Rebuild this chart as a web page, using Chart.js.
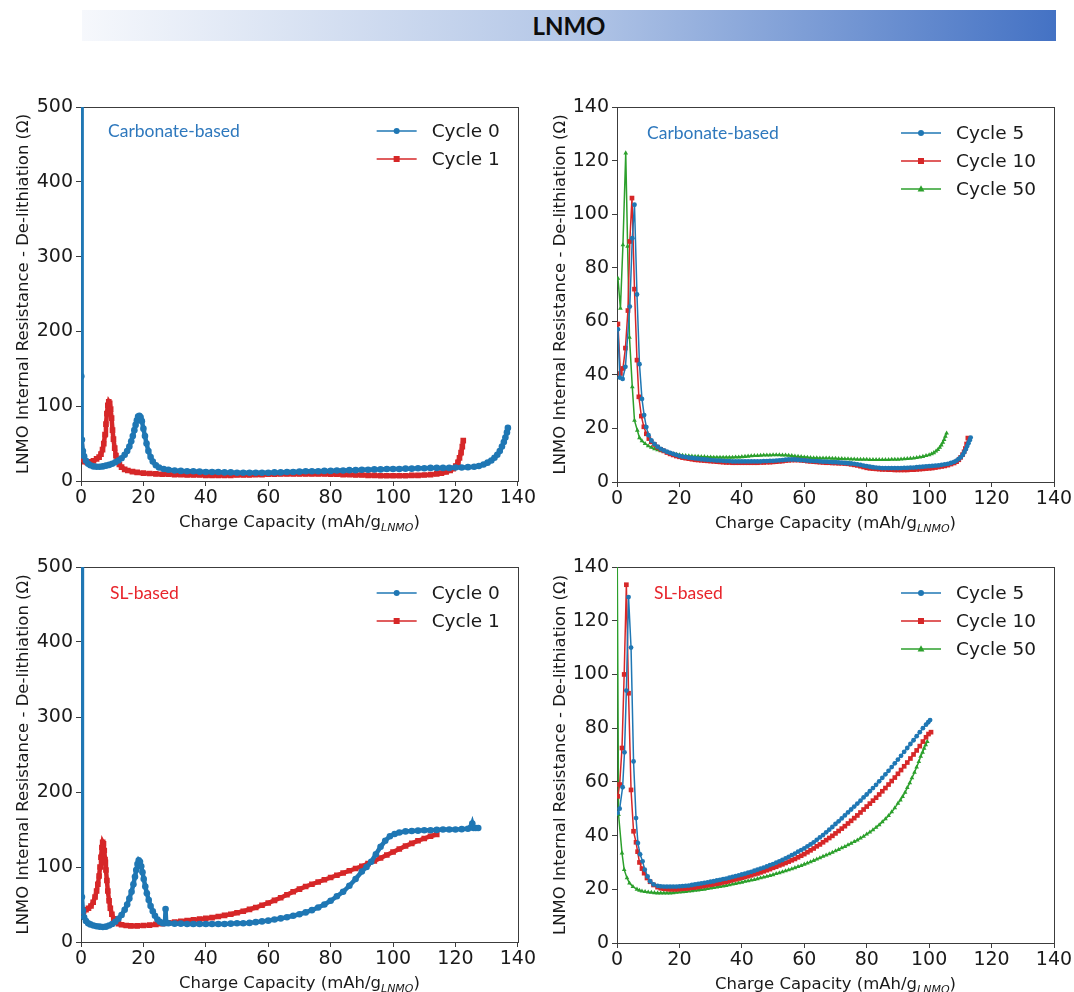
<!DOCTYPE html>
<html><head><meta charset="utf-8">
<script src="https://cdn.jsdelivr.net/npm/chart.js@4.4.1/dist/chart.umd.min.js"></script>
<style>
html,body{margin:0;padding:0;background:#fff;width:1074px;height:992px;overflow:hidden;}
#banner{position:absolute;left:82px;top:10px;width:974px;height:31px;background:linear-gradient(to right,#f6f8fc 0%,#b4c7e7 50%,#4472c4 100%);text-align:center;font-family:Lato,'Open Sans',sans-serif;font-weight:700;font-size:24px;line-height:31px;color:#0d0d0d;}
canvas{position:absolute;}
</style></head><body>
<div id="banner">LNMO</div>
<canvas id="c0" width="537" height="480" style="left:0px;top:60px"></canvas>
<canvas id="c1" width="537" height="480" style="left:537px;top:60px"></canvas>
<canvas id="c2" width="537" height="480" style="left:0px;top:520px"></canvas>
<canvas id="c3" width="537" height="480" style="left:537px;top:520px"></canvas>
<script>
// ---------- DATA (x = charge capacity mAh/g, y = resistance Ohm) ----------
const xTicks = [0, 20, 40, 60, 80, 100, 120, 140];
const yTicksLeft = [0, 100, 200, 300, 400, 500];
const yTicksRight = [0, 20, 40, 60, 80, 100, 120, 140];
const labelsLeft = ['Cycle 0', 'Cycle 1'];
const labelsRight = ['Cycle 5', 'Cycle 10', 'Cycle 50'];

// Carbonate-based, cycle 0
const carbCycle0 = [[0,900],[0.1,140],[0.3,55],[0.6,40],[1,33],[1.6,27],[2.3,23],[3,21],[4,19.5],[5,19],[6,19],[7,19.5],[8,20.5],[9,21.5],[10,23],[11,25],[12,27.5],[13,30.5],[14,35],[14.8,40],[15.5,46],[16.1,53],[16.6,60],[17.1,68],[17.5,75],[17.9,81],[18.3,86],[18.7,87],[19.1,85],[19.5,80],[20,70],[20.5,60],[21,50],[21.6,40],[22.3,32],[23,26],[24,21],[25,18],[26.5,16],[28,15],[30,14],[32,13.5],[34,13],[36,13],[38,12.5],[40,12],[42,12],[44,12],[46,11.5],[48,11.5],[50,11],[52,11],[54,11],[56,11],[58,11],[60,11],[62,11.5],[64,11.5],[66,12],[68,12],[70,12.5],[72,13],[74,13],[76,13],[78,13.5],[80,13.5],[82,14],[84,14],[86,14.5],[88,14.5],[90,15],[92,15],[94,15.5],[96,15.5],[98,16],[100,16],[102,16],[104,16.5],[106,16.5],[108,17],[110,17],[112,17.5],[114,17.5],[116,17.5],[118,17.5],[120,18],[122,18],[124,18.5],[126,19],[127.5,20],[129,22],[130.3,24.5],[131.5,27.5],[132.5,31],[133.4,35],[134.2,40],[134.9,46],[135.5,52],[136,58],[136.5,65],[136.8,71]];
// Carbonate-based, cycle 1
const carbCycle1 = [[0,50],[0.3,36],[0.7,29],[1.2,26],[2,25],[3,25.5],[4,27],[5,29.5],[5.8,32],[6.4,36],[6.9,42],[7.3,50],[7.7,62],[8,76],[8.3,90],[8.6,101],[8.9,106],[9.2,104],[9.5,96],[9.8,84],[10.1,68],[10.4,56],[10.8,44],[11.2,34],[11.7,27],[12.3,22],[13,18.5],[14,15.5],[15,14],[16.5,12.5],[18,11.5],[20,10.5],[22,10],[24,9.5],[26,9],[28,9],[30,8.5],[32,8.5],[34,8],[36,8],[38,8],[40,7.5],[42,7.5],[44,7.5],[46,7.5],[48,7.5],[50,8],[52,8],[54,8],[56,8.5],[58,8.5],[60,9],[62,9],[64,9.5],[66,9.5],[68,9.5],[70,9.5],[72,9.5],[74,9.5],[76,9.5],[78,9.5],[80,9],[82,9],[84,8.5],[86,8.5],[88,8],[90,8],[92,7.5],[94,7.5],[96,7],[98,7],[100,7],[102,7],[104,7],[106,7.5],[108,7.5],[110,8],[112,8.5],[114,9.5],[115.5,10.5],[117,12],[118.3,14],[119.3,16.5],[120.1,20],[120.8,25],[121.3,31],[121.8,38],[122.2,46],[122.5,54]];
// Carbonate-based, cycles 5 / 10 / 50
const carbCycle5 = [[0.3,57],[0.9,39],[1.8,38.5],[2.7,43],[4.1,65.5],[4.9,91],[5.6,103.5],[6.4,70],[7.2,44],[8,31],[8.7,25],[9.4,20.5],[10.1,17.5],[11,15.5],[12,14.2],[13,13.2],[14,12.4],[15,11.8],[16,11.3],[17,10.9],[18,10.5],[19,10.1],[20,9.7],[21,9.5],[22,9.3],[23,9.1],[24,9],[25,8.8],[26,8.7],[27,8.5],[28,8.4],[29,8.3],[30,8.2],[31,8.1],[32,8],[33,8],[34,7.9],[35,7.8],[36,7.8],[37,7.7],[38,7.7],[39,7.7],[40,7.7],[41,7.7],[42,7.7],[43,7.7],[44,7.7],[45,7.7],[46,7.7],[47,7.8],[48,7.8],[49,7.9],[50,7.9],[51,8],[52,8.1],[53,8.2],[54,8.3],[55,8.4],[56,8.4],[57,8.4],[58,8.3],[59,8.2],[60,8.1],[61,8],[62,7.9],[63,7.8],[64,7.8],[65,7.7],[66,7.6],[67,7.6],[68,7.5],[69,7.4],[70,7.4],[71,7.3],[72,7.2],[73,7.1],[74,7],[75,6.9],[76,6.8],[77,6.6],[78,6.4],[79,6.1],[80,5.9],[81,5.7],[82,5.5],[83,5.4],[84,5.3],[85,5.2],[86,5.2],[87,5.2],[88,5.2],[89,5.2],[90,5.2],[91,5.2],[92,5.3],[93,5.3],[94,5.4],[95,5.4],[96,5.5],[97,5.6],[98,5.7],[99,5.8],[100,5.9],[101,6],[102,6.1],[103,6.2],[104,6.4],[105,6.6],[106,6.8],[107,7.1],[108,7.5],[108.8,8],[109.5,8.6],[110.2,9.3],[110.8,10.2],[111.3,11.2],[111.8,12.3],[112.2,13.4],[112.6,14.5],[113,15.6],[113.3,16.6]];
const carbCycle10 = [[0.3,59],[1.1,40.5],[1.9,42.4],[2.7,50],[3.5,64],[4.1,89.8],[4.8,106],[5.6,72],[6.4,45.5],[7,31.8],[7.8,24.6],[8.6,20.6],[9.4,18],[10.2,16.2],[11,15],[12,14],[13,13],[14,12.2],[15,11.6],[16,11],[17,10.5],[18,10.1],[19,9.7],[20,9.4],[21,9.1],[22,8.9],[23,8.7],[24,8.5],[25,8.3],[26,8.2],[27,8.1],[28,8],[29,7.9],[30,7.8],[31,7.7],[32,7.6],[33,7.5],[34,7.4],[35,7.3],[36,7.3],[37,7.2],[38,7.2],[39,7.2],[40,7.2],[41,7.2],[42,7.2],[43,7.2],[44,7.2],[45,7.2],[46,7.3],[47,7.3],[48,7.4],[49,7.4],[50,7.5],[51,7.6],[52,7.7],[53,7.8],[54,8],[55,8.1],[56,8.2],[57,8.2],[58,8.2],[59,8.1],[60,8],[61,7.8],[62,7.7],[63,7.6],[64,7.5],[65,7.4],[66,7.3],[67,7.2],[68,7.2],[69,7.1],[70,7.1],[71,7],[72,7],[73,6.9],[74,6.8],[75,6.6],[76,6.4],[77,6.2],[78,5.9],[79,5.6],[80,5.3],[81,5.1],[82,5],[83,4.9],[84,4.8],[85,4.7],[86,4.7],[87,4.6],[88,4.6],[89,4.5],[90,4.5],[91,4.5],[92,4.5],[93,4.5],[94,4.6],[95,4.6],[96,4.7],[97,4.8],[98,4.9],[99,5],[100,5.1],[101,5.2],[102,5.4],[103,5.6],[104,5.8],[105,6],[106,6.3],[107,6.7],[108,7.1],[108.8,7.6],[109.5,8.3],[110.1,9.2],[110.7,10.2],[111.2,11.3],[111.6,12.5],[112,14.2],[112.4,16.4]];
const carbCycle50 = [[0.3,76],[1.1,64.8],[1.9,88.5],[2.8,122.8],[3.4,88],[4,54],[4.9,35.5],[5.6,23],[6.5,19.3],[7.2,16.5],[8,15.3],[9,14.3],[10,13.5],[11,12.9],[12,12.4],[13,12],[14,11.6],[15,11.3],[16,11],[17,10.7],[18,10.5],[19,10.3],[20,10.1],[21,9.9],[22,9.8],[23,9.7],[24,9.6],[25,9.5],[26,9.5],[27,9.4],[28,9.4],[29,9.3],[30,9.3],[31,9.2],[32,9.2],[33,9.2],[34,9.2],[35,9.2],[36,9.2],[37,9.2],[38,9.3],[39,9.3],[40,9.4],[41,9.5],[42,9.6],[43,9.7],[44,9.8],[45,9.8],[46,9.9],[47,10],[48,10],[49,10],[50,10.1],[51,10.1],[52,10.1],[53,10],[54,10],[55,9.9],[56,9.8],[57,9.6],[58,9.5],[59,9.4],[60,9.3],[61,9.2],[62,9.1],[63,9],[64,9],[65,8.9],[66,8.9],[67,8.9],[68,8.9],[69,8.8],[70,8.8],[71,8.7],[72,8.7],[73,8.6],[74,8.6],[75,8.5],[76,8.5],[77,8.4],[78,8.4],[79,8.4],[80,8.4],[81,8.3],[82,8.3],[83,8.3],[84,8.3],[85,8.3],[86,8.3],[87,8.3],[88,8.4],[89,8.4],[90,8.4],[91,8.5],[92,8.6],[93,8.7],[94,8.8],[95,8.9],[96,9.1],[97,9.3],[98,9.5],[99,9.8],[100,10.1],[100.8,10.5],[101.5,10.9],[102.2,11.5],[102.8,12.1],[103.4,12.9],[103.9,13.8],[104.4,14.8],[104.8,15.8],[105.2,17],[105.6,18.2]];

// SL-based, cycle 0
const slCycle0 = [[0,900],[0.3,60],[0.6,42],[1,33],[1.6,28],[2.3,25],[3,23.5],[4,22],[5,21],[6,20.5],[7,20],[8,20.5],[9,22],[10,24],[11,27],[12,31],[13,36],[14,43],[14.8,50],[15.5,58],[16.2,67],[16.8,77],[17.3,87],[17.7,96],[18.1,104],[18.5,109],[18.9,107],[19.3,101],[19.7,93],[20.1,84],[20.6,74],[21.1,65],[21.7,56],[22.3,48],[23,41],[23.7,35],[24.5,30],[25.3,27],[26.2,25],[26.9,25],[27.1,44],[27.3,26],[28,25],[30,24.5],[32,24.5],[34,24],[36,24],[38,24],[40,24],[42,24],[44,24],[46,24],[48,24.5],[50,25],[52,25],[54,25.5],[56,26.5],[58,27.5],[60,28.5],[62,30],[64,31.5],[66,33],[68,35],[70,37],[72,39.5],[74,42.5],[76,46],[78,50],[80,55],[82,61],[84,67],[86,75],[88,84],[90,94],[91.5,100],[93,107],[94.5,117],[96,127],[97.5,135],[99,141],[100.5,144],[102,146],[104,147.5],[106,148],[108,148.5],[110,149],[112,149],[114,149.5],[116,150],[118,150],[120,150],[122,150.5],[124,151],[125,153],[125.4,158],[125.8,152],[126.5,152],[127.3,152]];
// SL-based, cycle 1
const slCycle1 = [[0,40],[0.8,41],[1.6,43],[2.4,45],[3.2,48],[3.9,53],[4.5,60],[5,68],[5.4,77],[5.8,88],[6.1,100],[6.4,113],[6.7,126],[6.95,133],[7.2,131],[7.45,122],[7.7,110],[8,96],[8.3,82],[8.6,68],[9,55],[9.4,45],[9.9,37],[10.5,31],[11.2,27],[12,24.5],[13,23],[14.5,22],[16,21.5],[18,21.5],[20,22],[22,22.5],[24,23.5],[26,24.5],[28,25.5],[30,26.5],[32,27.5],[34,28.5],[36,29.5],[38,30.5],[40,31.5],[42,32.5],[44,34],[46,35.5],[48,37],[50,39],[52,41],[54,43.5],[56,46],[58,49],[60,52],[62,55.5],[64,59],[66,63],[68,67],[70,70.5],[72,74],[74,77],[76,80],[78,83],[80,86],[82,89],[84,92],[86,95],[88,98],[90,101],[92,104.5],[94,108],[96,112],[98,116],[100,120],[102,124],[104,128],[106,131.5],[108,135],[110,138],[112,141],[114,143.5]];
// SL-based, cycles 5 / 10 / 50
const slCycle5 = [[0.2,48.4],[0.85,50],[1.8,58],[2.4,71],[3,94],[3.7,128.8],[4.5,110],[5.3,67.6],[6.1,46.5],[6.7,37.2],[7.4,33],[8.2,30.4],[8.9,27.3],[9.8,24.8],[10.6,23],[11.7,21.8],[13,21.3],[14,21.1],[15,21],[16,21],[17,21],[18,21],[19,21],[20,21.1],[21,21.2],[22,21.3],[23,21.4],[24,21.6],[25,21.8],[26,22],[27,22.2],[28,22.4],[29,22.6],[30,22.8],[31,23],[32,23.3],[33,23.5],[34,23.8],[35,24],[36,24.3],[37,24.6],[38,24.9],[39,25.2],[40,25.5],[41,25.8],[42,26.2],[43,26.5],[44,26.9],[45,27.3],[46,27.7],[47,28.1],[48,28.5],[49,29],[50,29.4],[51,29.9],[52,30.4],[53,30.9],[54,31.5],[55,32.1],[56,32.7],[57,33.3],[58,34],[59,34.6],[60,35.2],[61,36],[62,36.7],[63,37.5],[64,38.4],[65,39.3],[66,40.2],[67,41.2],[68,42.2],[69,43.2],[70,44.3],[71,45.3],[72,46.4],[73,47.5],[74,48.6],[75,49.7],[76,50.8],[77,51.9],[78,53],[79,54.2],[80,55.3],[81,56.5],[82,57.7],[83,58.9],[84,60.2],[85,61.5],[86,62.8],[87,64.1],[88,65.5],[89,66.9],[90,68.3],[91,69.7],[92,71.2],[93,72.6],[94,74.1],[95,75.5],[96,77],[97,78.5],[98,80],[99,81.3],[99.7,82.2],[100.3,83]];
const slCycle10 = [[0.2,54.6],[0.85,59],[1.6,72.6],[2.3,100],[3,133.4],[3.7,93],[4.5,57],[5.3,41.6],[6.1,37.5],[6.6,34],[7.2,30],[8,27.7],[8.7,26],[9.6,24.2],[10.6,22.8],[11.7,21.6],[13,20.8],[14,20.4],[15,20.2],[16,20.1],[17,20],[18,20],[19,20],[20,20.1],[21,20.2],[22,20.3],[23,20.4],[24,20.6],[25,20.7],[26,20.9],[27,21.1],[28,21.3],[29,21.5],[30,21.7],[31,21.9],[32,22.1],[33,22.3],[34,22.6],[35,22.8],[36,23.1],[37,23.4],[38,23.7],[39,24],[40,24.3],[41,24.6],[42,24.9],[43,25.2],[44,25.6],[45,25.9],[46,26.3],[47,26.7],[48,27.1],[49,27.5],[50,28],[51,28.4],[52,28.9],[53,29.3],[54,29.8],[55,30.3],[56,30.8],[57,31.3],[58,31.9],[59,32.5],[60,33.1],[61,33.8],[62,34.5],[63,35.2],[64,36],[65,36.7],[66,37.5],[67,38.3],[68,39.1],[69,39.9],[70,40.8],[71,41.7],[72,42.6],[73,43.5],[74,44.5],[75,45.5],[76,46.5],[77,47.5],[78,48.6],[79,49.7],[80,50.8],[81,51.9],[82,53],[83,54.1],[84,55.3],[85,56.5],[86,57.7],[87,59],[88,60.3],[89,61.6],[90,63],[91,64.4],[92,65.8],[93,67.2],[94,68.7],[95,70.2],[96,71.7],[97,73.3],[98,75],[99,76.6],[99.8,77.8],[100.6,78.5]];
const slCycle50 = [[0,160],[0.5,47.8],[1.6,33.5],[2.3,27.3],[3.2,24.2],[4,22.3],[5.1,21],[6.4,20],[7.2,19.6],[8,19.3],[9,19.1],[10,18.9],[11,18.8],[12,18.7],[13,18.6],[14,18.6],[15,18.6],[16,18.6],[17,18.6],[18,18.7],[19,18.8],[20,18.9],[21,19],[22,19.1],[23,19.3],[24,19.4],[25,19.6],[26,19.7],[27,19.9],[28,20],[29,20.2],[30,20.4],[31,20.6],[32,20.8],[33,21],[34,21.2],[35,21.4],[36,21.6],[37,21.9],[38,22.1],[39,22.4],[40,22.6],[41,22.9],[42,23.1],[43,23.4],[44,23.6],[45,23.9],[46,24.2],[47,24.5],[48,24.8],[49,25.1],[50,25.4],[51,25.8],[52,26.1],[53,26.5],[54,26.8],[55,27.2],[56,27.6],[57,28],[58,28.4],[59,28.8],[60,29.3],[61,29.7],[62,30.2],[63,30.7],[64,31.2],[65,31.7],[66,32.2],[67,32.7],[68,33.2],[69,33.7],[70,34.3],[71,34.8],[72,35.4],[73,35.9],[74,36.5],[75,37.1],[76,37.7],[77,38.3],[78,39],[79,39.7],[80,40.5],[81,41.3],[82,42.1],[83,43],[84,44],[85,45.1],[86,46.2],[87,47.4],[88,48.8],[89,50.3],[90,52],[90.8,53.2],[91.5,54.5],[92.3,56.1],[93,57.8],[93.8,59.6],[94.5,61.5],[95.3,63.5],[96,65.5],[96.7,67.5],[97.3,69.5],[97.9,71],[98.4,72.5],[98.9,73.8],[99.4,75]];

// ---------- STYLE ----------
const BLUE = '#1f77b4', RED = '#d62728', GREEN = '#2ca02c';
const TXT = '#1a1a1a', FRAME = '#3c3c3c';
const TICKFONT = {family: 'DejaVu Sans', size: 19};
const YTITLE = 'LNMO Internal Resistance - De-lithiation (\u03A9)';

const styleLeft = [
  {color: BLUE, pointStyle: 'circle', pointRadius: 3.3, borderWidth: 4.5, legendMarker: 'circle'},
  {color: RED, pointStyle: 'rect', pointRadius: 4, borderWidth: 4.5, legendMarker: 'rect'}
];
const styleRight = [
  {color: BLUE, pointStyle: 'circle', pointRadius: 2.4, borderWidth: 1.5, legendMarker: 'circle'},
  {color: RED, pointStyle: 'rect', pointRadius: 3.3, borderWidth: 1.5, legendMarker: 'rect'},
  {color: GREEN, pointStyle: 'triangle', pointRadius: 2.7, borderWidth: 1.5, legendMarker: 'triangle'}
];

const panels = [
  {id: 'c0', left: 0, top: 60, area: [81, 107, 518, 481], yTicks: yTicksLeft, series: [carbCycle0, carbCycle1], labels: labelsLeft, styles: styleLeft,
   note: 'Carbonate-based', noteColor: '#2e78bd', noteOff: [27, 24], legendOff: 24},
  {id: 'c1', left: 537, top: 60, area: [617, 107, 1054, 482], yTicks: yTicksRight, series: [carbCycle5, carbCycle10, carbCycle50], labels: labelsRight, styles: styleRight,
   note: 'Carbonate-based', noteColor: '#2e78bd', noteOff: [30, 26], legendOff: 26},
  {id: 'c2', left: 0, top: 520, area: [81, 567, 518, 942], yTicks: yTicksLeft, series: [slCycle0, slCycle1], labels: labelsLeft, styles: styleLeft,
   note: 'SL-based', noteColor: '#e8242b', noteOff: [29, 26], legendOff: 26},
  {id: 'c3', left: 537, top: 520, area: [617, 567, 1054, 943], yTicks: yTicksRight, series: [slCycle5, slCycle10, slCycle50], labels: labelsRight, styles: styleRight,
   note: 'SL-based', noteColor: '#e8242b', noteOff: [37, 26], legendOff: 26}
];

function drawMarker(ctx, kind, x, y, color) {
  ctx.fillStyle = color;
  ctx.beginPath();
  if (kind === 'circle') { ctx.arc(x, y, 3, 0, Math.PI * 2); }
  else if (kind === 'rect') { ctx.rect(x - 3, y - 3, 6, 6); }
  else { ctx.moveTo(x, y - 3.8); ctx.lineTo(x + 3.4, y + 2.4); ctx.lineTo(x - 3.4, y + 2.4); ctx.closePath(); }
  ctx.fill();
}

function makeDecor(p) {
  return {
    id: 'decor',
    beforeDatasetsDraw(chart) {
      const a = chart.chartArea, ctx = chart.ctx;
      ctx.save();
      ctx.strokeStyle = FRAME; ctx.lineWidth = 1;
      ctx.strokeRect(Math.round(a.left) + 0.5, Math.round(a.top) + 0.5, Math.round(a.right - a.left), Math.round(a.bottom - a.top));
      ctx.restore();
    },
    afterDraw(chart) {
      const a = chart.chartArea, ctx = chart.ctx;
      ctx.save();
      // annotation
      ctx.font = '17.5px Lato, "Open Sans", sans-serif';
      ctx.fillStyle = p.noteColor; ctx.textAlign = 'left'; ctx.textBaseline = 'middle';
      ctx.fillText(p.note, a.left + p.noteOff[0], a.top + p.noteOff[1]);
      // legend
      ctx.font = '18.5px "DejaVu Sans"';
      let maxW = 0;
      p.labels.forEach(l => { maxW = Math.max(maxW, ctx.measureText(l).width); });
      const textLeft = a.right - 18 - maxW;
      p.labels.forEach((l, i) => {
        const y = a.top + p.legendOff + i * 28;
        const st = p.styles[i];
        ctx.strokeStyle = st.color; ctx.lineWidth = 1.5;
        ctx.beginPath(); ctx.moveTo(textLeft - 55, y); ctx.lineTo(textLeft - 15, y); ctx.stroke();
        drawMarker(ctx, st.legendMarker, textLeft - 35, y, st.color);
        ctx.fillStyle = TXT; ctx.textAlign = 'left'; ctx.textBaseline = 'middle';
        ctx.fillText(l, textLeft, y + 1);
      });
      // x axis title with subscript
      const main = 'Charge Capacity (mAh/g', sub = 'LNMO', tail = ')';
      const fMain = '16.5px "DejaVu Sans"', fSub = 'italic 11px "DejaVu Sans"';
      ctx.font = fMain; const w1 = ctx.measureText(main).width, w3 = ctx.measureText(tail).width;
      ctx.font = fSub; const w2 = ctx.measureText(sub).width;
      let x = (a.left + a.right) / 2 - (w1 + w2 + w3) / 2;
      const yb = a.bottom + 46;
      ctx.fillStyle = TXT; ctx.textAlign = 'left'; ctx.textBaseline = 'alphabetic';
      ctx.font = fMain; ctx.fillText(main, x, yb); x += w1;
      ctx.font = fSub; ctx.fillText(sub, x, yb + 3.5); x += w2;
      ctx.font = fMain; ctx.fillText(tail, x, yb);
      ctx.restore();
    }
  };
}

panels.forEach(p => {
  const cv = document.getElementById(p.id);
  const W = cv.width, H = cv.height;
  const aL = p.area[0] - p.left, aT = p.area[1] - p.top, aR = p.area[2] - p.left, aB = p.area[3] - p.top;
  const yMax = p.yTicks[p.yTicks.length - 1];
  const datasets = p.series.map((s, i) => {
    const st = p.styles[i];
    return {
      label: p.labels[i],
      data: s.map(pt => ({x: pt[0], y: pt[1]})),
      showLine: true,
      borderColor: st.color, backgroundColor: st.color,
      borderWidth: st.borderWidth,
      pointStyle: st.pointStyle, pointRadius: st.pointRadius,
      pointBorderWidth: 0, pointHoverRadius: st.pointRadius,
      tension: 0
    };
  });
  new Chart(cv, {
    type: 'scatter',
    data: {datasets},
    plugins: [makeDecor(p)],
    options: {
      responsive: false, animation: false, devicePixelRatio: 1,
      layout: {padding: {left: 0, top: aT, right: W - aR, bottom: 0}},
      plugins: {legend: {display: false}, tooltip: {enabled: false}},
      scales: {
        x: {
          type: 'linear', min: xTicks[0], max: xTicks[xTicks.length - 1],
          afterBuildTicks: s => { s.ticks = xTicks.map(v => ({value: v})); },
          afterFit: s => { s.height = H - aB; },
          border: {display: false},
          grid: {display: true, drawOnChartArea: false, drawTicks: true, tickLength: 5, color: FRAME, lineWidth: 1},
          ticks: {font: TICKFONT, color: TXT, padding: 1, maxRotation: 0, autoSkip: false}
        },
        y: {
          type: 'linear', min: p.yTicks[0], max: yMax,
          afterBuildTicks: s => { s.ticks = p.yTicks.map(v => ({value: v})); },
          afterFit: s => { s.width = aL; },
          border: {display: false},
          grid: {display: true, drawOnChartArea: false, drawTicks: true, tickLength: 5, color: FRAME, lineWidth: 1},
          ticks: {font: TICKFONT, color: TXT, padding: 3, autoSkip: false},
          title: {display: true, text: YTITLE, color: TXT, font: {family: 'DejaVu Sans', size: 16.5}, padding: {top: 14, bottom: 0}}
        }
      }
    }
  });
});
</script>
</body></html>
